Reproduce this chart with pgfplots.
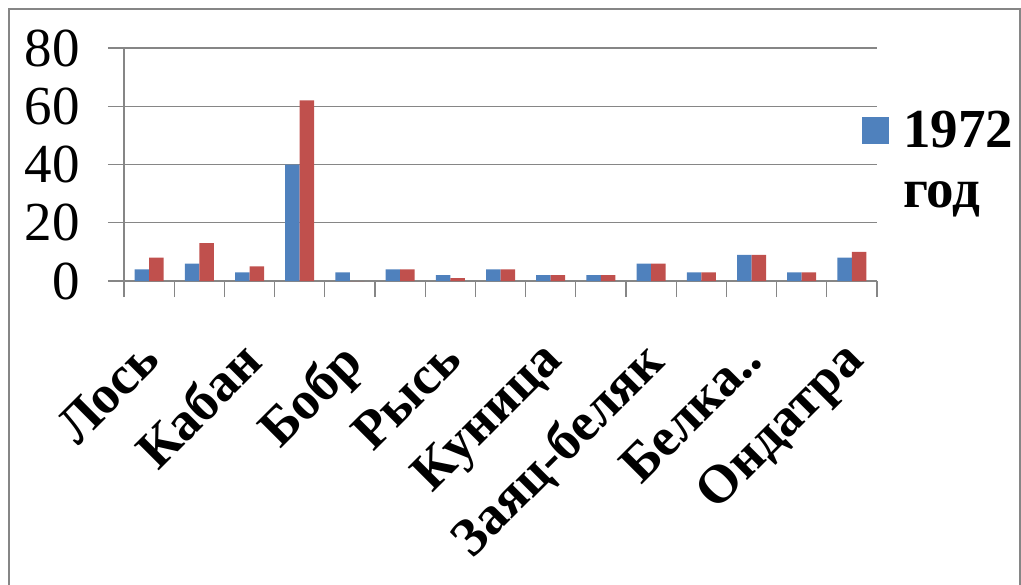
\documentclass[border=0pt]{standalone}
\usepackage{fontspec}
\setmainfont{Liberation Serif}
\usepackage{pgfplots}
\pgfplotsset{compat=1.18}
\definecolor{bblue}{HTML}{4F81BD}
\definecolor{bred}{HTML}{C0504D}
\definecolor{axgray}{HTML}{868686}

\begin{document}
\begin{tikzpicture}
\useasboundingbox (0,0) rectangle (510.5pt,292pt);
\draw[axgray, line width=0.6pt] (4.5pt,-2pt) -- (4.5pt,287.5pt) -- (510pt,287.5pt) -- (510pt,-2pt);
\begin{axis}[
  at={(62pt,151.5pt)}, anchor=south west,
  scale only axis, width=376.5pt, height=116.5pt,
  xmin=0.5, xmax=15.5, ymin=0, ymax=80,
  axis lines*=left,
  axis line style={axgray, line width=0.6pt},
  ybar=0pt, bar width=7.25pt,
  ytick={0,20,...,80},
  ymajorgrids, grid style={axgray, line width=0.6pt},
  tick align=outside, major tick length=8pt,
  tick style={axgray, line width=0.6pt},
  xtick={0.5,1.5,...,15.5}, xticklabels={},
  extra x ticks={1,3,5,7,9,11,13,15},
  extra x tick labels={Лось,Кабан,Бобр,Рысь,Куница,Заяц-беляк,Белка..,Ондатра},
  extra x tick style={tick style={draw=none},
    tick label style={font=\fontsize{27}{32}\selectfont\bfseries,
      xshift=-6pt, yshift=-20pt, rotate=45, anchor=north east, inner sep=0pt}},
  /pgf/number format/assume math mode=true,
  yticklabel style={font=\fontsize{27.5}{33}\selectfont, inner sep=0pt, xshift=-14pt, anchor=east},
  legend style={draw=none, fill=none, at={(0.98,0.755)}, anchor=north west,
    font=\fontsize{27.5}{30}\selectfont\bfseries, inner sep=0pt,
    nodes={inner sep=0pt}, column sep=7pt},
  legend image code/.code={\fill[#1] (0pt,-8pt) rectangle (13.5pt,5.5pt);},
  legend cell align=left,
]
\addplot[fill=bblue, draw=none] coordinates {
  (1,4) (2,6) (3,3) (4,40) (5,3) (6,4) (7,2) (8,4)
  (9,2) (10,2) (11,6) (12,3) (13,9) (14,3) (15,8)};
\addplot[fill=bred, draw=none] coordinates {
  (1,8) (2,13) (3,5) (4,62) (5,0) (6,4) (7,1) (8,4)
  (9,2) (10,2) (11,6) (12,3) (13,9) (14,3) (15,10)};
\legend{{\begin{tabular}[t]{@{}l@{}}1972\\год\end{tabular}}}
\end{axis}
\end{tikzpicture}
\end{document}
